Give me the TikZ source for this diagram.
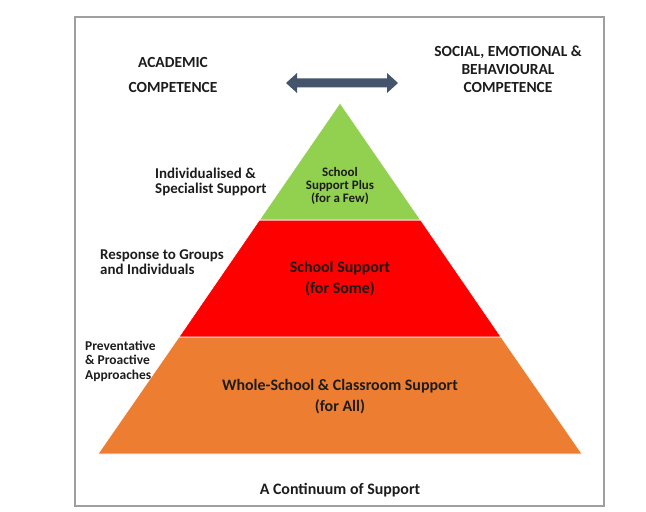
\documentclass[tikz,border=0pt]{standalone}
\usepackage{fontspec}
\setmainfont{Carlito}
\usetikzlibrary{calc}
\definecolor{tiergreen}{HTML}{92D050}
\definecolor{tierred}{HTML}{FF0000}
\definecolor{tierorange}{HTML}{ED7D31}
\definecolor{arrowslate}{HTML}{44546A}
\definecolor{inktext}{HTML}{1C1C1C}
\tikzset{
  hdr/.style={font=\bfseries\fontsize{15.5}{#1}\selectfont, text=inktext, align=center, inner sep=0pt},
  sidelbl/.style={font=\bfseries\fontsize{15}{15.5}\selectfont, text=inktext, align=left, anchor=west, inner sep=0pt},
  tiertext/.style={font=\bfseries\fontsize{16}{#1}\selectfont, text=inktext, align=center, inner sep=0pt},
  tier/.style={fill=#1, draw=white, line width=0.6pt}
}

\begin{document}
\begin{tikzpicture}[x=1bp, y=-1bp]
			%%%%% START %%%%%
			\useasboundingbox (0, 0) rectangle (646, 512);
			\draw[gray!75, line width=1.3pt] (75, 17) rectangle (604, 506);
			
			% pyramid corners
			\coordinate (apex) at (340, 103);
			\coordinate (gl) at (259.4, 220);
			\coordinate (gr) at (420.6, 220);
			\coordinate (rl) at (179, 337);
			\coordinate (rr) at (501, 337);
			\coordinate (ol) at (98, 454);
			\coordinate (or) at (582, 454);
			
			\draw[tier=tierorange] (rl) -- (rr) -- (or) -- (ol) -- cycle;
			\draw[tier=tierred] (gl) -- (gr) -- (rr) -- (rl) -- cycle;
			\draw[tier=tiergreen] (apex) -- (gr) -- (gl) -- cycle;
			
			% double arrow
			\fill[arrowslate] (286, 83) -- (297, 73) -- (297, 78.5) -- (387, 78.5) -- (387, 73) -- (398, 83)
				-- (387, 93) -- (387, 87.5) -- (297, 87.5) -- (297, 93) -- cycle;
			
			\node[hdr=25] (academic) at (173, 75) {ACADEMIC\\COMPETENCE};
			\node[hdr=18] (social) at (508, 69.5) {SOCIAL, EMOTIONAL \&\\BEHAVIOURAL\\COMPETENCE};
			
			\node[sidelbl] (indiv) at (155, 182) {Individualised \&\\Specialist Support};
			\node[sidelbl] (groups) at (100, 262) {Response to Groups\\and Individuals};
			\node[sidelbl, font=\bfseries\fontsize{13.5}{14.5}\selectfont] (prevent) at (85, 361) {Preventative\\\& Proactive\\Approaches};
			
			\node[tiertext=13, font=\bfseries\fontsize{13}{13}\selectfont] (plus) at (340, 186) {School\\Support Plus\\(for a Few)};
			\node[tiertext=21] (some) at (340, 279) {School Support\\(for Some)};
			\node[tiertext=21] (all) at (340, 396.5) {Whole-School \& Classroom Support\\(for All)};
			
			\node[tiertext=18] (continuum) at (340, 490) {A Continuum of Support};
			%%%%% END %%%%%
		\end{tikzpicture}
\end{document}
